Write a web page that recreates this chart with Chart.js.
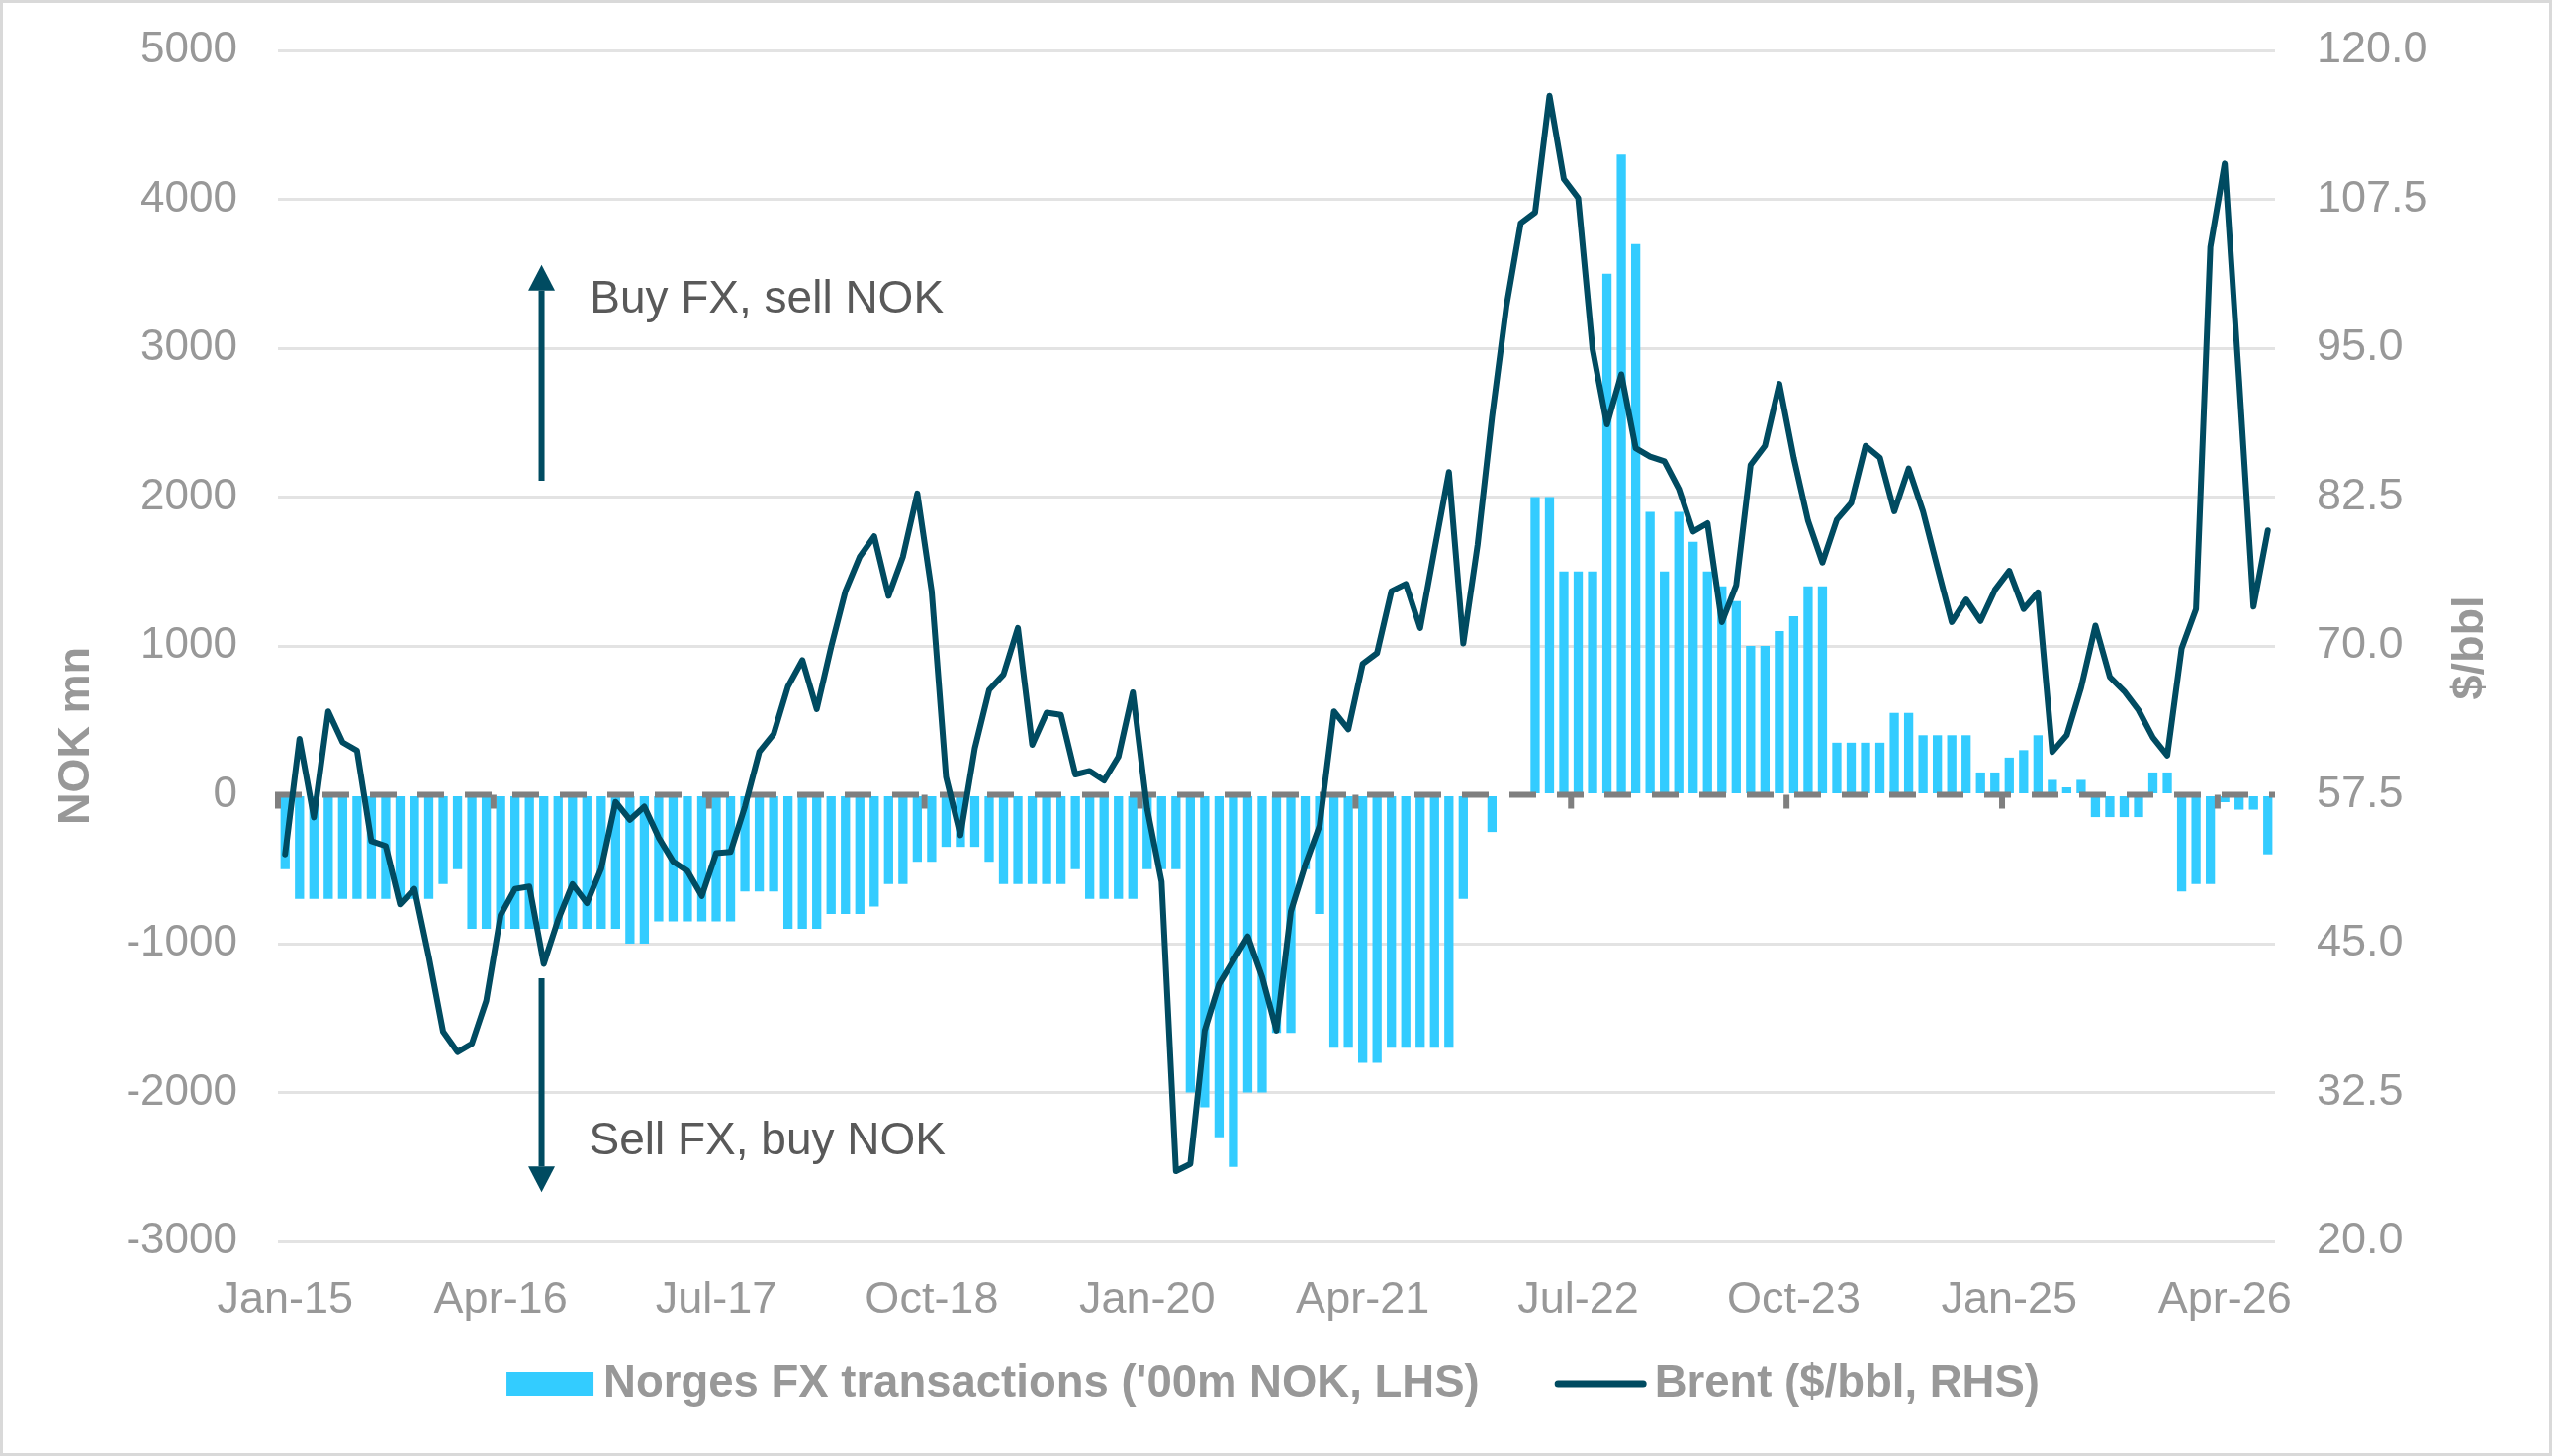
<!DOCTYPE html>
<html>
<head>
<meta charset="utf-8">
<script src="https://cdn.jsdelivr.net/npm/chart.js@4.4.1/dist/chart.umd.min.js"></script>
<style>
html,body{margin:0;padding:0;background:#fff;overflow:hidden}
canvas{display:block}
</style>
</head>
<body>
<canvas id="c" width="2580" height="1472"></canvas>
<script>
// ---------------- DATA ----------------
const categories = [
 'Jan-15','Feb-15','Mar-15','Apr-15','May-15','Jun-15','Jul-15','Aug-15','Sep-15','Oct-15','Nov-15','Dec-15',
 'Jan-16','Feb-16','Mar-16','Apr-16','May-16','Jun-16','Jul-16','Aug-16','Sep-16','Oct-16','Nov-16','Dec-16',
 'Jan-17','Feb-17','Mar-17','Apr-17','May-17','Jun-17','Jul-17','Aug-17','Sep-17','Oct-17','Nov-17','Dec-17',
 'Jan-18','Feb-18','Mar-18','Apr-18','May-18','Jun-18','Jul-18','Aug-18','Sep-18','Oct-18','Nov-18','Dec-18',
 'Jan-19','Feb-19','Mar-19','Apr-19','May-19','Jun-19','Jul-19','Aug-19','Sep-19','Oct-19','Nov-19','Dec-19',
 'Jan-20','Feb-20','Mar-20','Apr-20','May-20','Jun-20','Jul-20','Aug-20','Sep-20','Oct-20','Nov-20','Dec-20',
 'Jan-21','Feb-21','Mar-21','Apr-21','May-21','Jun-21','Jul-21','Aug-21','Sep-21','Oct-21','Nov-21','Dec-21',
 'Jan-22','Feb-22','Mar-22','Apr-22','May-22','Jun-22','Jul-22','Aug-22','Sep-22','Oct-22','Nov-22','Dec-22',
 'Jan-23','Feb-23','Mar-23','Apr-23','May-23','Jun-23','Jul-23','Aug-23','Sep-23','Oct-23','Nov-23','Dec-23',
 'Jan-24','Feb-24','Mar-24','Apr-24','May-24','Jun-24','Jul-24','Aug-24','Sep-24','Oct-24','Nov-24','Dec-24',
 'Jan-25','Feb-25','Mar-25','Apr-25','May-25','Jun-25','Jul-25','Aug-25','Sep-25','Oct-25','Nov-25','Dec-25',
 'Jan-26','Feb-26','Mar-26','Apr-26','May-26','Jun-26','Jul-26'
];

// Norges Bank FX transactions ('00m NOK, LHS)
const fxTransactions = [
 -500,-700,-700,-700,-700,-700,-700,-700,-700,-700,-700,-600,
 -500,-900,-900,-900,-900,-900,-900,-900,-900,-900,-900,-900,
 -1000,-1000,-850,-850,-850,-850,-850,-850,-650,-650,-650,-900,
 -900,-900,-800,-800,-800,-750,-600,-600,-450,-450,-350,-350,
 -350,-450,-600,-600,-600,-600,-600,-500,-700,-700,-700,-700,
 -500,-500,-500,-2000,-2100,-2300,-2500,-2000,-2000,-1600,-1600,-500,
 -800,-1700,-1700,-1800,-1800,-1700,-1700,-1700,-1700,-1700,-700,0,
 -250,0,0,2000,2000,1500,1500,1500,3500,4300,3700,1900,
 1500,1900,1700,1500,1400,1300,1000,1000,1100,1200,1400,1400,
 350,350,350,350,550,550,400,400,400,400,150,150,
 250,300,400,100,50,100,-150,-150,-150,-150,150,150,
 -650,-600,-600,-50,-100,-100,-400
];

// Brent ($/bbl, RHS)
const brent = [
 52.5,62.2,55.6,64.5,61.9,61.2,53.6,53.2,48.3,49.6,43.9,37.6,
 35.9,36.6,40.2,47.4,49.6,49.8,43.3,47.0,50.0,48.4,51.3,56.9,
 55.4,56.5,53.9,51.9,51.1,49.0,52.6,52.7,56.5,61.1,62.6,66.6,
 68.8,64.7,69.9,74.6,77.5,79.2,74.2,77.5,82.8,74.6,59.0,54.1,
 61.4,66.3,67.6,71.5,61.7,64.4,64.2,59.2,59.5,58.7,60.7,66.1,
 56.3,50.2,25.9,26.5,37.7,41.6,43.6,45.6,42.2,37.7,47.7,51.6,
 54.9,64.5,63.0,68.5,69.4,74.6,75.2,71.5,78.1,84.6,70.2,78.5,
 89.2,98.5,105.5,106.4,116.2,109.2,107.6,94.9,88.6,92.8,86.6,85.9,
 85.5,83.2,79.6,80.3,72.0,75.1,85.2,86.8,92.0,85.8,80.5,77.0,
 80.6,82.0,86.8,85.8,81.3,84.9,81.3,76.6,72.0,73.9,72.1,74.7,
 76.3,73.1,74.5,61.1,62.5,66.5,71.7,67.4,66.2,64.6,62.3,60.8,
 69.8,73.1,103.5,110.5,92.3,73.3,79.7
];

const seriesNames = ["Norges FX transactions ('00m NOK, LHS)", "Brent ($/bbl, RHS)"];
const lhsTicks = [-3000, 5000, 1000];      // min, max, step
const rhsTicks = [20, 120, 12.5];          // min, max, step
const labelEvery = 15;                      // x label every 15 months
const axisTitles = ['NOK mn', '$/bbl'];

// Annotations positioned in data space (category index, LHS value)
const annotationText = ['Buy FX, sell NOK', 'Sell FX, buy NOK'];
const annotationArrowX = [17.85, 17.85];
const annotationArrowFrom = [2110, -1233];
const annotationArrowTo = [3560, -2670];
const annotationTextX = [21.2, 21.15];
const annotationTextY = [3240, -2417];

// ---------------- STYLE ----------------
const FONT = "'Liberation Sans', Arial, Helvetica, sans-serif";
const BAR_COLOR = '#33CCFF';
const LINE_COLOR = '#004B61';
const AXIS_TEXT = '#989898';
const GRID = '#e3e3e3';
const ZERO_COLOR = '#7f7f7f';

const zeroLinePlugin = {
  id: 'zeroLine',
  afterDatasetDraw(chart, args) {
    if (args.index !== 0) return;
    const ctx = chart.ctx, ca = chart.chartArea;
    const y = chart.scales.y.getPixelForValue(0);
    const xs = chart.scales.x;
    const half = (xs.getPixelForValue(1) - xs.getPixelForValue(0)) / 2;
    ctx.save();
    ctx.beginPath();
    ctx.rect(ca.left - 4, ca.top, ca.right - ca.left + 4, ca.bottom - ca.top);
    ctx.clip();
    ctx.strokeStyle = ZERO_COLOR;
    ctx.lineWidth = 6;
    ctx.setLineDash([27, 21]);
    ctx.beginPath();
    ctx.moveTo(ca.left - 3, y);
    ctx.lineTo(ca.right, y);
    ctx.stroke();
    ctx.setLineDash([]);
    ctx.fillStyle = ZERO_COLOR;
    for (let i = 0; i < categories.length; i += labelEvery) {
      const bx = xs.getPixelForValue(i) - half;
      ctx.fillRect(bx - 3, y, 6, 14);
    }
    ctx.restore();
  }
};

const decorPlugin = {
  id: 'decor',
  afterDraw(chart) {
    const ctx = chart.ctx;
    const xs = chart.scales.x, ys = chart.scales.y;
    ctx.save();
    // axis titles
    ctx.fillStyle = AXIS_TEXT;
    ctx.font = 'bold 45px ' + FONT;
    ctx.textAlign = 'center';
    ctx.textBaseline = 'alphabetic';
    ctx.save(); ctx.translate(90, 744); ctx.rotate(-Math.PI / 2); ctx.fillText(axisTitles[0], 0, 0); ctx.restore();
    ctx.save(); ctx.translate(2510, 655); ctx.rotate(-Math.PI / 2); ctx.fillText(axisTitles[1], 0, 0); ctx.restore();

    // annotations
    for (let k = 0; k < annotationText.length; k++) {
      const ax = xs.getPixelForValue(annotationArrowX[k]);
      const y0 = ys.getPixelForValue(annotationArrowFrom[k]);
      const y1 = ys.getPixelForValue(annotationArrowTo[k]);
      const dir = y1 < y0 ? -1 : 1;
      const headH = 26, headW = 27;
      ctx.strokeStyle = LINE_COLOR; ctx.fillStyle = LINE_COLOR;
      ctx.lineWidth = 6; ctx.lineCap = 'butt';
      ctx.beginPath(); ctx.moveTo(ax, y0); ctx.lineTo(ax, y1 - dir * headH); ctx.stroke();
      ctx.beginPath();
      ctx.moveTo(ax, y1);
      ctx.lineTo(ax - headW / 2, y1 - dir * headH);
      ctx.lineTo(ax + headW / 2, y1 - dir * headH);
      ctx.closePath(); ctx.fill();
      ctx.fillStyle = '#595959';
      ctx.font = '46px ' + FONT;
      ctx.textAlign = 'left'; ctx.textBaseline = 'alphabetic';
      ctx.fillText(annotationText[k], xs.getPixelForValue(annotationTextX[k]), ys.getPixelForValue(annotationTextY[k]));
    }

    // legend
    ctx.font = 'bold 45.5px ' + FONT;
    const w1 = ctx.measureText(seriesNames[0]).width;
    const w2 = ctx.measureText(seriesNames[1]).width;
    const gap = 76;
    const total = 88 + 10 + w1 + gap + 93 + 8 + w2;
    let lx = 1287 - total / 2;
    const ly = 1399;
    ctx.fillStyle = BAR_COLOR;
    ctx.fillRect(lx, ly - 12, 88, 24);
    lx += 98;
    ctx.fillStyle = AXIS_TEXT; ctx.textAlign = 'left'; ctx.textBaseline = 'middle';
    ctx.fillText(seriesNames[0], lx, ly);
    lx += w1 + gap;
    ctx.strokeStyle = LINE_COLOR; ctx.lineWidth = 7; ctx.lineCap = 'round';
    ctx.beginPath(); ctx.moveTo(lx + 3.5, ly); ctx.lineTo(lx + 89.5, ly); ctx.stroke();
    lx += 101;
    ctx.fillText(seriesNames[1], lx, ly);

    // outer frame
    ctx.strokeStyle = '#d9d9d9'; ctx.lineWidth = 3; ctx.lineCap = 'butt';
    ctx.strokeRect(1.5, 1.5, chart.width - 3, chart.height - 3);
    ctx.restore();
  }
};

new Chart(document.getElementById('c'), {
  data: {
    labels: categories,
    datasets: [
      {
        type: 'bar', label: seriesNames[0], data: fxTransactions, yAxisID: 'y',
        backgroundColor: BAR_COLOR, borderWidth: 0,
        barPercentage: 0.64, categoryPercentage: 1.0, order: 2
      },
      {
        type: 'line', label: seriesNames[1], data: brent, yAxisID: 'y1',
        borderColor: LINE_COLOR, borderWidth: 6, pointRadius: 0, tension: 0,
        borderJoinStyle: 'round', borderCapStyle: 'round', fill: false, order: 1
      }
    ]
  },
  options: {
    responsive: false, animation: false, devicePixelRatio: 1,
    layout: { padding: { top: 51, bottom: 117, left: 0, right: 0 } },
    plugins: { legend: { display: false }, tooltip: { enabled: false } },
    scales: {
      x: {
        type: 'category', offset: true,
        grid: { display: false }, border: { display: false },
        ticks: {
          autoSkip: false, maxRotation: 0, minRotation: 0, padding: 25,
          color: AXIS_TEXT, font: { family: FONT, size: 45 },
          callback: function (v, i) { return i % labelEvery === 0 ? categories[i] : ''; }
        },
        afterFit(s) { s.height = 100; s.paddingLeft = 0; s.paddingRight = 0; }
      },
      y: {
        position: 'left', min: lhsTicks[0], max: lhsTicks[1],
        border: { display: false },
        grid: { color: c => (c.tick && c.tick.value === 0) ? 'rgba(0,0,0,0)' : GRID, lineWidth: 3, drawTicks: false },
        ticks: { stepSize: lhsTicks[2], padding: 41, color: AXIS_TEXT, font: { family: FONT, size: 44 },
                 callback: v => String(v) },
        afterFit(s) { s.width = 281; s.paddingTop = 0; s.paddingBottom = 0; }
      },
      y1: {
        position: 'right', min: rhsTicks[0], max: rhsTicks[1],
        border: { display: false },
        grid: { drawOnChartArea: false, drawTicks: false },
        ticks: { stepSize: rhsTicks[2], padding: 42, color: AXIS_TEXT, font: { family: FONT, size: 45 },
                 callback: v => Number(v).toFixed(1) },
        afterFit(s) { s.width = 280; s.paddingTop = 0; s.paddingBottom = 0; }
      }
    }
  },
  plugins: [zeroLinePlugin, decorPlugin]
});
</script>
</body>
</html>
